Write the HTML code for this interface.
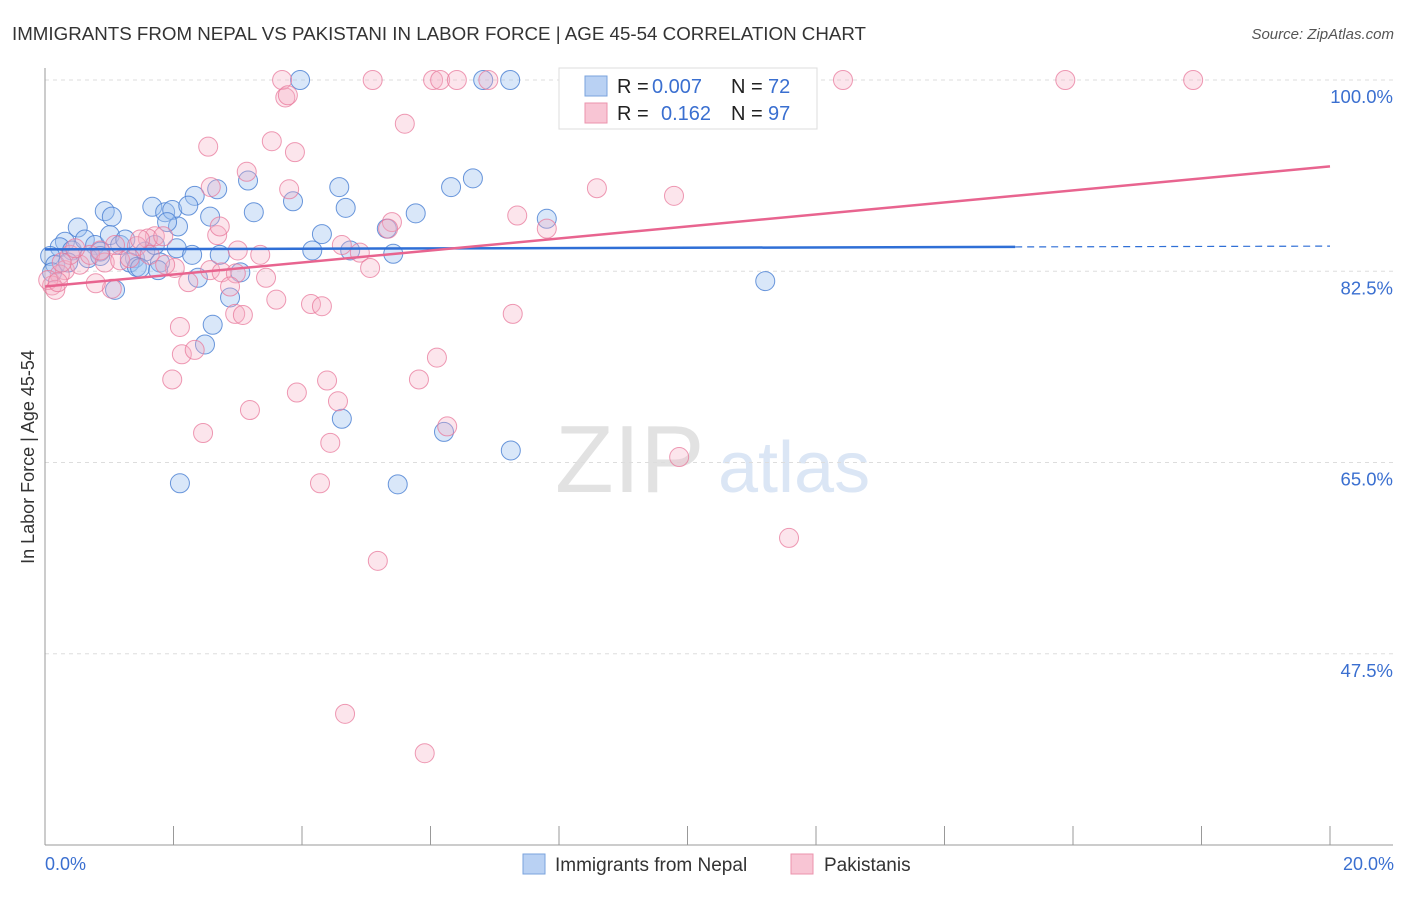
<!DOCTYPE html>
<html><head><meta charset="utf-8"><style>
body{margin:0;background:#fff;font-family:"Liberation Sans",sans-serif}
svg text{font-family:"Liberation Sans",sans-serif}
</style></head><body>
<svg id="c" width="1406" height="892">
<text x="12" y="40" font-size="18" fill="#333" textLength="854" lengthAdjust="spacingAndGlyphs">IMMIGRANTS FROM NEPAL VS PAKISTANI IN LABOR FORCE | AGE 45-54 CORRELATION CHART</text>
<text x="1394" y="39" font-size="15" fill="#555" font-style="italic" text-anchor="end">Source: ZipAtlas.com</text>
<text x="34" y="457" font-size="18" fill="#333" text-anchor="middle" transform="rotate(-90 34 457)">In Labor Force | Age 45-54</text>
<g><text x="555" y="492" font-size="96" font-family="Liberation Serif,serif" fill="#e2e2e2">ZIP</text><text x="718" y="492" font-size="72" fill="#dbe6f5">atlas</text></g>
<g id="grid"></g><g id="pts"></g><g id="trend"></g>
<g>
<rect x="559" y="68" width="258" height="61" fill="#fff" stroke="#ddd"/>
<rect x="585" y="76" width="22" height="20" fill="#b9d1f3" stroke="#7aa3dc"/>
<rect x="585" y="103" width="22" height="20" fill="#f8c5d4" stroke="#eb93ad"/>
<text x="617" y="93" font-size="20" fill="#222">R =</text><text x="652" y="93" font-size="20" fill="#3a6fd0">0.007</text>
<text x="731" y="93" font-size="20" fill="#222">N =</text><text x="768" y="93" font-size="20" fill="#3a6fd0">72</text>
<text x="617" y="120" font-size="20" fill="#222">R =</text><text x="661" y="120" font-size="20" fill="#3a6fd0">0.162</text>
<text x="731" y="120" font-size="20" fill="#222">N =</text><text x="768" y="120" font-size="20" fill="#3a6fd0">97</text>
</g>
<g>
<rect x="523" y="854" width="22" height="20" fill="#b9d1f3" stroke="#7aa3dc"/>
<text x="555" y="871" font-size="19" fill="#333">Immigrants from Nepal</text>
<rect x="791" y="854" width="22" height="20" fill="#f8c5d4" stroke="#eb93ad"/>
<text x="824" y="871" font-size="19" fill="#333">Pakistanis</text>
</g>
<text x="45" y="870" font-size="18" fill="#3a6fd0">0.0%</text>
<text x="1394" y="870" font-size="18" fill="#3a6fd0" text-anchor="end">20.0%</text>
</svg>
<script>
const yTicks=[100,82.5,65,47.5];
const blueX=[3.97,6.82,7.24,0.93,1.04,1.67,1.87,1.98,2.33,2.23,2.68,3.16,3.25,3.86,4.58,4.68,6.66,6.32,5.77,7.81,5.32,4.31,2.07,1.90,2.57,0.51,0.31,0.23,0.42,0.62,0.78,0.86,1.01,1.17,1.25,1.40,1.56,1.71,1.79,2.05,2.29,2.72,3.04,4.16,4.75,5.42,11.21,1.09,1.32,1.43,2.38,2.88,2.61,2.49,4.62,6.21,7.25,2.10,5.49,0.08,0.16,0.11,0.36,0.67,0.86,1.48,1.76];
const blueY=[100,100,100,88.0,87.5,88.4,87.9,88.1,89.4,88.5,90.0,90.8,87.9,88.9,90.2,88.3,91.0,90.2,87.8,87.3,86.4,85.9,86.6,87.0,87.5,86.5,85.2,84.7,84.4,85.4,84.9,84.3,85.8,84.9,85.4,83.7,84.3,84.9,83.3,84.6,84.0,84.0,82.4,84.4,84.4,84.1,81.6,80.8,83.3,82.9,81.9,80.1,77.6,75.8,69.0,67.8,66.1,63.1,63.0,83.9,83.1,82.4,83.3,83.7,83.9,82.8,82.6];
const pinkX=[3.69,5.10,6.04,6.15,6.41,6.90,9.39,12.42,15.88,17.87,3.74,3.78,5.60,3.53,2.54,3.89,3.14,2.58,3.80,8.59,9.79,7.35,5.40,5.34,7.81,2.68,2.72,1.71,1.60,1.43,1.84,3.00,3.35,4.62,4.90,2.57,2.75,2.97,3.44,5.06,2.23,2.02,1.04,0.79,0.31,0.23,0.11,0.05,0.16,2.88,3.60,4.14,4.31,2.96,3.08,7.28,2.10,2.13,2.33,6.10,1.98,5.82,4.39,3.92,4.56,3.19,2.46,4.44,6.26,9.87,4.28,11.58,5.18,4.67,5.91,0.54,0.70,0.93,1.17,1.32,1.63,1.87,1.09,1.48,0.39,0.47,0.86,0.26,0.20];
const pinkY=[100,100,100,100,100,100,100,100,100,100,98.4,98.6,96.0,94.4,93.9,93.4,91.6,90.2,90.0,90.1,89.4,87.6,87.0,86.4,86.4,85.8,86.6,85.7,85.5,84.8,85.7,84.4,84.0,84.9,84.2,82.6,82.4,82.3,81.9,82.8,81.5,82.8,80.9,81.4,82.6,82.2,81.2,81.7,80.8,81.1,79.9,79.5,79.3,78.6,78.5,78.6,77.4,74.9,75.3,74.6,72.6,72.6,72.5,71.4,70.6,69.8,67.7,66.8,68.3,65.5,63.1,58.1,56.0,42.0,38.4,83.1,84.0,83.3,83.5,83.7,84.0,83.1,84.9,85.4,84.0,84.6,84.4,83.3,81.5];
const blueTrend=[84.5,84.8];
const pinkTrend=[81.1,92.1];
const X0=45,X1=1330,Y0=80,YB=845,YMAX=100,YMIN=30;
const sx=v=>X0+v/20*(X1-X0);
const sy=v=>Y0+(YMAX-v)/(YMAX-YMIN)*(YB-Y0);
const NS="http://www.w3.org/2000/svg";
function mk(tag,attrs,parent){const e=document.createElementNS(NS,tag);for(const k in attrs)e.setAttribute(k,attrs[k]);parent.appendChild(e);return e;}
const g=document.getElementById('grid');
yTicks.forEach(t=>{
 const l=mk('line',{x1:X0,x2:1393,y1:sy(t),y2:sy(t),stroke:'#ddd','stroke-dasharray':'4 4'},g);
 
 
 const tx=mk('text',{x:1393,y:sy(t)+23,'font-size':18.5,fill:'#3a6fd0','text-anchor':'end'},g);
 tx.textContent=t.toFixed(1)+'%';
 
 
});
const ax=mk('line',{x1:X0,x2:1393,y1:YB,y2:YB,stroke:'#999'},g);


const ay=mk('line',{x1:X0,x2:X0,y1:68,y2:YB,stroke:'#999'},g);


for(let i=0;i<=10;i++){
 const t=mk('line',{x1:sx(i*2),x2:sx(i*2),y1:826,y2:YB,stroke:'#999'},g);
 
 
}
const p=document.getElementById('pts');
blueX.forEach((x,i)=>{
 const c=mk('circle',{cx:sx(x),cy:sy(blueY[i]),r:9.5,fill:'rgba(160,196,240,0.4)',stroke:'rgba(70,125,210,0.8)','stroke-width':1},p);
 
 
});
pinkX.forEach((x,i)=>{
 const c=mk('circle',{cx:sx(x),cy:sy(pinkY[i]),r:9.5,fill:'rgba(245,175,198,0.33)',stroke:'rgba(232,120,155,0.75)','stroke-width':1},p);
 
 
});
const tr=document.getElementById('trend');
const bxEnd=15.1;
const bAt=x=>blueTrend[0]+(blueTrend[1]-blueTrend[0])*x/20;
const b1=mk('line',{x1:sx(0),y1:sy(bAt(0)),x2:sx(bxEnd),y2:sy(bAt(bxEnd)),stroke:'#2f6fd6','stroke-width':2.5},tr);


const b2=mk('line',{x1:sx(bxEnd),y1:sy(bAt(bxEnd)),x2:sx(20),y2:sy(bAt(20)),stroke:'#2f6fd6','stroke-width':1.2,'stroke-dasharray':'7 5'},tr);


const pl=mk('line',{x1:sx(0),y1:sy(pinkTrend[0]),x2:sx(20),y2:sy(pinkTrend[1]),stroke:'#e8648f','stroke-width':2.5},tr);


</script>
</body></html>
